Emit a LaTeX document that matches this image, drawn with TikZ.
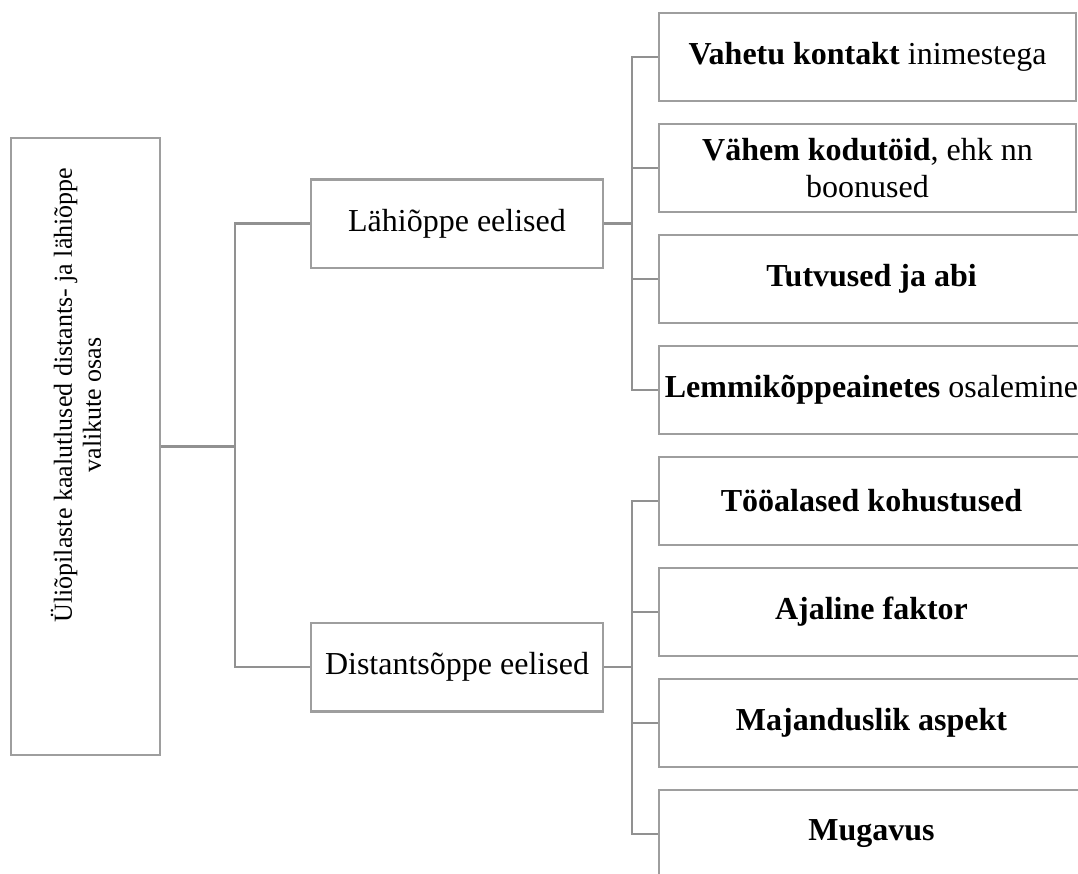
\documentclass[tikz,border=0pt]{standalone}
\usepackage{fontspec}
\setmainfont{Liberation Serif}
\definecolor{boxgray}{RGB}{158,158,158}
\definecolor{linegray}{RGB}{145,145,145}
\begin{document}
\begin{tikzpicture}[x=1pt,y=-1pt,
  box/.style={draw=boxgray, line width=2.5pt, fill=white, inner sep=0pt, align=center,
              font=\fontsize{32}{37}\selectfont},
  leaf/.style={box, minimum width=417pt, minimum height=88pt},
  leafcut/.style={box, minimum width=425pt, minimum height=88pt},
  mid/.style={box, minimum width=292pt, minimum height=88.5pt},
  conn/.style={draw=linegray, line width=2.5pt}]
\useasboundingbox (0,0) rectangle (1078,873);
\clip (0,0) rectangle (1078,873);

% root
\node[box, minimum width=149pt, minimum height=617pt] (root) at (85.5,446.5) {};
\node[rotate=90, align=center, inner sep=0pt, font=\fontsize{26}{29}\selectfont] (rootlabel) at (76,395)
  {Üliõpilaste kaalutlused distants- ja lähiõppe\\valikute osas\hspace*{20pt}};

% middle
\node[mid] (lahi) at (457,223.5) {Lähiõppe eelised};
\node[mid] (dist) at (457,667) {Distantsõppe eelised};

% leaves
\node[leaf] (l1) at (867.5,57) {\textbf{Vahetu kontakt} inimestega};
\node[leaf] (l2) at (867.5,168) {\textbf{Vähem kodutöid}, ehk nn\\boonused};
\node[leafcut] (l3) at (871.5,279) {\textbf{Tutvused ja abi}};
\node[leafcut] (l4) at (871.5,390) {\textbf{Lemmikõppeainetes} osalemine};
\node[leafcut] (l5) at (871.5,501) {\textbf{Tööalased kohustused}};
\node[leafcut] (l6) at (871.5,612) {\textbf{Ajaline faktor}};
\node[leafcut] (l7) at (871.5,723) {\textbf{Majanduslik aspekt}};
\node[leafcut] (l8) at (871.5,834) {\textbf{Mugavus}};

% junctions
\coordinate (j1) at (235,446.5);
\coordinate (j2) at (632,223.5);
\coordinate (j3) at (632,667);

% connectors
\draw[conn] (root.east) -- (j1);
\draw[conn] (lahi.west) -| (j1) |- (dist.west);
\draw[conn] (lahi.east) -- (j2);
\draw[conn] (l1.west) -| (j2) |- (l4.west);
\draw[conn] (l2.west) -- (l2.west -| j2);
\draw[conn] (l3.west) -- (l3.west -| j2);
\draw[conn] (dist.east) -- (j3);
\draw[conn] (l5.west) -| (j3) |- (l8.west);
\draw[conn] (l6.west) -- (l6.west -| j3);
\draw[conn] (l7.west) -- (l7.west -| j3);
\end{tikzpicture}
\end{document}
